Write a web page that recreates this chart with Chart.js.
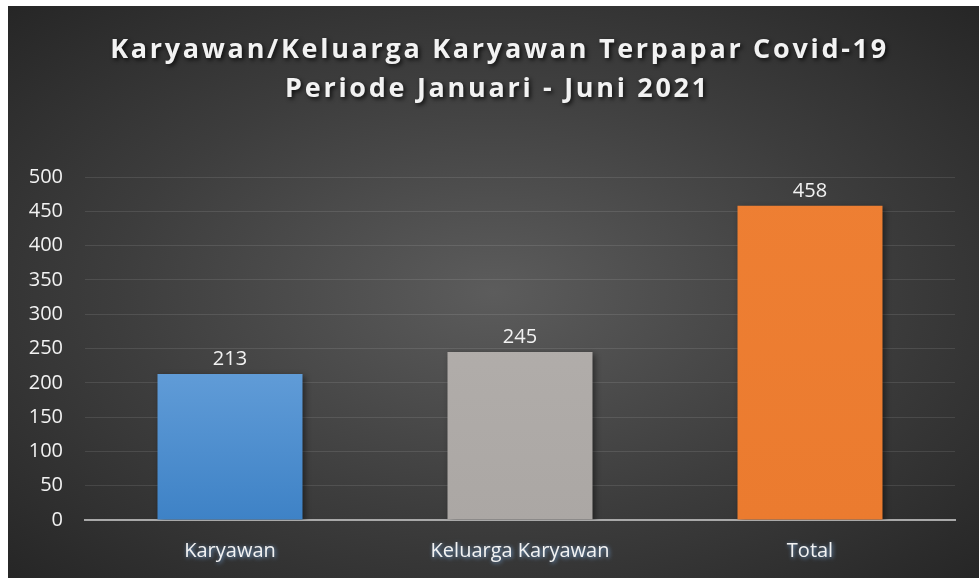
<!DOCTYPE html>
<html>
<head>
<meta charset="utf-8">
<script src="https://cdn.jsdelivr.net/npm/chart.js@4/dist/chart.umd.min.js"></script>
<style>
  html, body { margin: 0; padding: 0; background: #fff; }
  #wrap {
    position: absolute; left: 8px; top: 6px; width: 971px; height: 572px;
    background: radial-gradient(ellipse at 50% 50%, #5c5c5c 0%, #3d3d3d 55%, #262626 100%);
  }
  canvas { display: block; }
</style>
</head>
<body>
<div id="wrap"><canvas id="chart" width="971" height="572"></canvas></div>
<script>
const titleLines = ['Karyawan/Keluarga Karyawan Terpapar Covid-19', 'Periode Januari - Juni 2021'];
const categories = ['Karyawan', 'Keluarga Karyawan', 'Total'];
const values = [213, 245, 458];
const yTicks = [0, 50, 100, 150, 200, 250, 300, 350, 400, 450, 500];

const FONT = '"Open Sans", sans-serif';

function barColor(ctx) {
  const chart = ctx.chart;
  const area = chart.chartArea;
  if (!area) return '#5b9bd5';
  const i = ctx.dataIndex;
  const g = chart.ctx.createLinearGradient(0, area.top, 0, area.bottom);
  if (i === 0) {
    g.addColorStop(0, '#7eb3e6'); g.addColorStop(0.45, '#6aa3dc'); g.addColorStop(1, '#3e82c6');
  } else if (i === 1) {
    g.addColorStop(0, '#b6b2af'); g.addColorStop(1, '#aba7a4');
  } else {
    g.addColorStop(0, '#ee7f33'); g.addColorStop(1, '#eb7b2f');
  }
  return g;
}

const decor = {
  id: 'decor',
  beforeDatasetsDraw(chart) {
    const c = chart.ctx;
    c.save();
    c.shadowColor = 'rgba(0,0,0,0.45)';
    c.shadowBlur = 6;
    c.shadowOffsetX = 2;
    c.shadowOffsetY = 2;
  },
  afterDatasetsDraw(chart) {
    const c = chart.ctx;
    c.restore();
    // value labels
    const meta = chart.getDatasetMeta(0);
    c.save();
    c.font = '20px ' + FONT;
    c.fillStyle = '#f2f2f2';
    c.textAlign = 'center';
    c.textBaseline = 'middle';
    meta.data.forEach((bar, i) => {
      c.fillText(String(values[i]), bar.x, bar.y - 15);
    });
    c.restore();
  },
  afterDraw(chart) {
    const c = chart.ctx;
    const x = chart.scales.x;
    // category labels with blue glow
    c.save();
    c.font = '20px ' + FONT;
    c.textAlign = 'center';
    c.textBaseline = 'middle';
    c.shadowColor = 'rgba(120,170,225,0.9)';
    c.shadowBlur = 4;
    c.shadowOffsetX = 1;
    c.shadowOffsetY = 1;
    c.fillStyle = '#f2f2f2';
    categories.forEach((lab, i) => {
      c.fillText(lab, x.getPixelForTick(i), x.bottom - 27);
    });
    c.restore();
    // title
    c.save();
    c.font = 'bold 27px ' + FONT;
    c.letterSpacing = '2.7px';
    c.textAlign = 'center';
    c.textBaseline = 'middle';
    c.shadowColor = 'rgba(0,0,0,0.75)';
    c.shadowBlur = 4;
    c.shadowOffsetX = 2;
    c.shadowOffsetY = 2;
    c.fillStyle = '#f2f2f2';
    c.fillText(titleLines[0], chart.width / 2 + 6, 44);
    c.fillText(titleLines[1], chart.width / 2 + 4, 83);
    c.restore();
  }
};

new Chart(document.getElementById('chart'), {
  type: 'bar',
  data: {
    labels: categories,
    datasets: [{
      data: values,
      backgroundColor: barColor,
      borderWidth: 0,
      barPercentage: 0.5,
      categoryPercentage: 1
    }]
  },
  options: {
    responsive: false,
    animation: false,
    layout: { padding: { top: 171, right: 24, left: 0, bottom: 0 } },
    plugins: { legend: { display: false }, tooltip: { enabled: false } },
    scales: {
      x: {
        grid: { display: false },
        border: { display: true, color: '#a9a9a9', width: 2 },
        ticks: { display: false },
        afterFit(s) { s.height = 58; }
      },
      y: {
        min: 0, max: 500,
        afterBuildTicks(s) { s.ticks = yTicks.map(v => ({ value: v })); },
        grid: { color: 'rgba(255,255,255,0.1)', lineWidth: 1, drawTicks: false },
        border: { display: false },
        ticks: { color: '#f2f2f2', font: { family: FONT, size: 20 }, padding: 22 },
        afterFit(s) { s.width = 77; }
      }
    }
  },
  plugins: [decor]
});
</script>
</body>
</html>
